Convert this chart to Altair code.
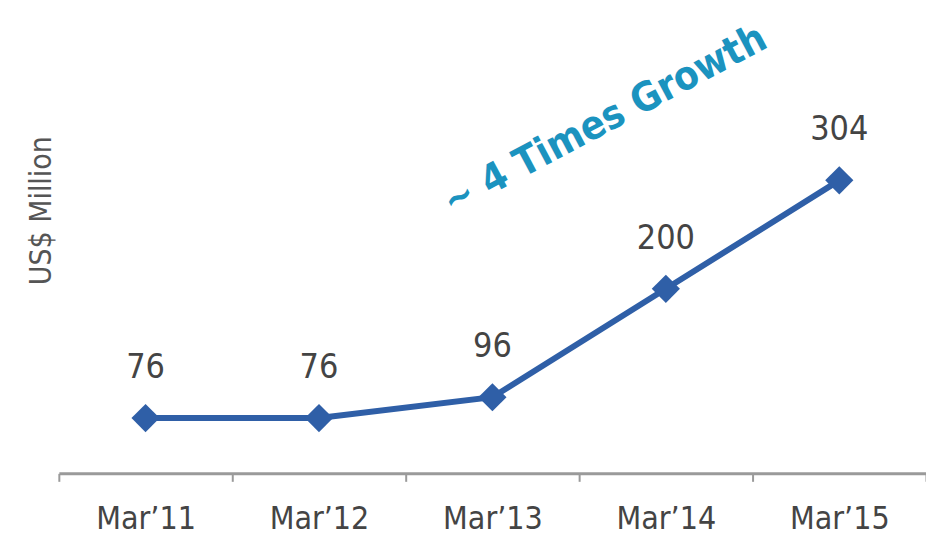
import altair as alt
import pandas as pd

periods = ["Mar’11", "Mar’12", "Mar’13", "Mar’14", "Mar’15"]
values = [76, 76, 96, 200, 304]
labels = ["76", "76", "96", "200", "304"]

df = pd.DataFrame({"period": periods, "value": values, "label": labels})

FONT = "Liberation Sans Narrow, DejaVu Sans Condensed, sans-serif"
LINE = "#2f5fa7"

x = alt.X("period:N", sort=periods,
          scale=alt.Scale(type="band", paddingInner=0, paddingOuter=0),
          axis=alt.Axis(title=None, labelAngle=0, labelFont=FONT, labelFontSize=32,
                        labelColor="#444444", labelPadding=22, tickBand="extent",
                        tickSize=8, tickColor="#9a9a9a", tickWidth=2,
                        domainColor="#9a9a9a", domainWidth=3, grid=False))
y = alt.Y("value:Q", scale=alt.Scale(domain=[23, 457], nice=False, zero=False),
          axis=alt.Axis(title="US$ Million", labels=False, ticks=False, domain=False,
                        grid=False, titleFont=FONT, titleFontSize=30,
                        titleFontWeight="normal", titleColor="#555555",
                        titleX=-17, titleY=190, titleAngle=270,
                        titleAlign="center", titleBaseline="middle"))

base = alt.Chart(df)

line = base.mark_line(color=LINE, strokeWidth=6).encode(x=x, y=y)
pts = base.mark_point(shape="diamond", filled=True, size=800, color=LINE,
                      opacity=1).encode(x=x, y=y)
txt = base.mark_text(font=FONT, fontSize=34, color="#444444", dy=-50,
                     baseline="middle").encode(x=x, y=y, text="label:N")

note = alt.Chart(pd.DataFrame({"t": ["~ 4 Times Growth"]})).mark_text(
    font=FONT, fontSize=40, fontWeight="bold", color="#1b93bf",
    angle=332, align="center", baseline="middle"
).encode(x=alt.value(548), y=alt.value(100), text="t:N")

chart = alt.layer(line, pts, txt, note).properties(
    width=870, height=454,
    autosize=alt.AutoSizeParams(type="none"),
    padding={"left": 51, "top": 12, "right": 0, "bottom": 64},
).configure_view(stroke=None)

chart.save("out.html", embed_options={"renderer": "svg", "actions": False})
